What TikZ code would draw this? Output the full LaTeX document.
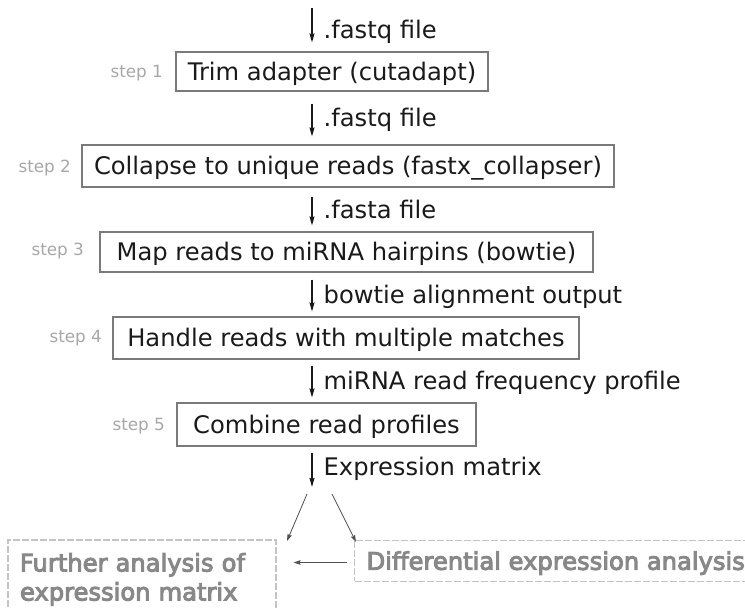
\documentclass[tikz,border=0pt]{standalone}
\usepackage{fontspec}
\setmainfont{DejaVu Sans}
\newfontfamily\grayfont[FakeBold=4]{DejaVu Sans}
\usetikzlibrary{arrows.meta}
\definecolor{boxline}{HTML}{7A7A7A}
\definecolor{steptext}{HTML}{A8A8A8}
\definecolor{maintext}{HTML}{1A1A1A}
\definecolor{grayline}{HTML}{C4C4C4}
\definecolor{graytext}{HTML}{888888}
\definecolor{thinarrow}{HTML}{505050}
\tikzset{
  mainfont/.style={font=\fontsize{24.2}{29}\selectfont, text=maintext},
  stepbox/.style={draw=boxline, line width=1.1pt, mainfont, inner sep=0pt,
    text height=17.5pt, text depth=0pt},
  steplabel/.style={font=\fontsize{16.8}{20}\selectfont, text=steptext, anchor=base east},
  flowarrow/.style={draw=maintext, line width=1.3pt, -{Stealth[length=9pt,width=5pt,inset=1pt]}},
  flowlabel/.style={mainfont, anchor=west, inner sep=0pt, xshift=11pt, text height=17.5pt, text depth=0pt},
  grayarrow/.style={draw=thinarrow, line width=0.8pt, -{Stealth[length=7pt,width=4.5pt,inset=1pt]}},
  graybox/.style={draw=grayline, line width=1.2pt, dash pattern=on 7pt off 2pt,
    font=\grayfont\fontsize{24.2}{29}\selectfont, text=graytext},
}
\begin{document}
\begin{tikzpicture}[x=1pt,y=-1pt]
\clip (0,0) rectangle (745,609);
\fill[white] (0,0) rectangle (745,609);

% arrow column
\coordinate (ax) at (312,0);
\coordinate (in) at (312,8);
\coordinate (out) at (312,487);

% step boxes
\node[stepbox, minimum width=312pt, minimum height=39pt] (b1) at (332,71.5) {Trim adapter (cutadapt)};
\node[stepbox, minimum width=532pt, minimum height=42pt] (b2) at (348,166) {Collapse to unique reads (fastx\_collapser)};
\node[stepbox, minimum width=493pt, minimum height=40pt] (b3) at (346.5,252) {Map reads to miRNA hairpins (bowtie)};
\node[stepbox, minimum width=466pt, minimum height=42pt] (b4) at (346,338) {Handle reads with multiple matches};
\node[stepbox, minimum width=299pt, minimum height=43pt] (b5) at (326.5,424.5) {Combine read profiles};

% step labels
\node[steplabel] (s1) at ([xshift=-9pt,yshift=-6pt]b1.west) {step 1};
\node[steplabel] (s2) at ([xshift=-7pt,yshift=-7pt]b2.west) {step 2};
\node[steplabel] (s3) at ([xshift=-12pt,yshift=-4pt]b3.west) {step 3};
\node[steplabel] (s4) at ([xshift=-7pt,yshift=-5pt]b4.west) {step 4};
\node[steplabel] (s5) at ([xshift=-8pt,yshift=-6pt]b5.west) {step 5};

% vertical arrows with labels
\draw[flowarrow, shorten >=9pt] (in) -- node[flowlabel] (l1) {.fastq file} (b1.north -| ax);
\draw[flowarrow, shorten <=12pt, shorten >=8pt] (b1.south -| ax) -- node[flowlabel] (l2) {.fastq file} (b2.north -| ax);
\draw[flowarrow, shorten <=9pt, shorten >=6pt] (b2.south -| ax) -- node[flowlabel] (l3) {.fasta file} (b3.north -| ax);
\draw[flowarrow, shorten <=7pt, shorten >=5pt] (b3.south -| ax) -- node[flowlabel] (l4) {bowtie alignment output} (b4.north -| ax);
\draw[flowarrow, shorten <=6pt, shorten >=5pt] (b4.south -| ax) -- node[flowlabel] (l5) {miRNA read frequency profile} (b5.north -| ax);
\draw[flowarrow, shorten <=6pt] (b5.south -| ax) -- node[flowlabel] (l6) {Expression matrix} (out);

% gray analysis boxes
\node[graybox, minimum width=268pt, minimum height=78.6pt, inner sep=0pt,
      text width=244pt, align=left] (fa) at (142,579.3) {Further analysis of\\expression matrix};
\node[graybox, anchor=west, minimum height=41pt, inner xsep=12pt, inner ysep=0pt,
      text height=17.5pt, text depth=0pt] (de) at (354,561) {Differential expression analysis};

% thin arrows
\coordinate (dl1) at (307,494);
\coordinate (dl2) at (287,541);
\coordinate (dr1) at (332,494);
\coordinate (dr2) at (356,542);
\draw[grayarrow] (dl1) -- (dl2);
\draw[grayarrow] (dr1) -- (dr2);
\draw[grayarrow, shorten <=7pt, shorten >=17pt] ([yshift=-1.5pt]de.west) -- ([yshift=-1.5pt]de.west -| fa.east);
\end{tikzpicture}
\end{document}
